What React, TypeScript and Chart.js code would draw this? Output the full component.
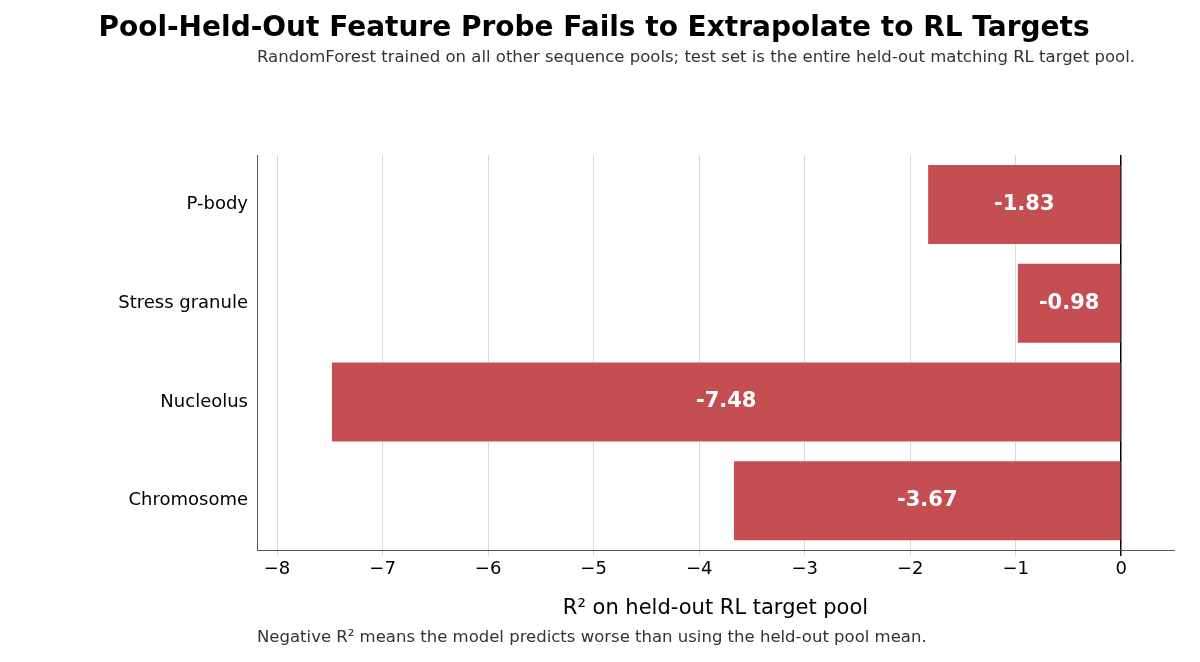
import React, { useEffect, useRef } from "react";
import { Chart, registerables } from "chart.js";
Chart.register(...registerables);

const categories = ["P-body", "Stress granule", "Nucleolus", "Chromosome"];
const r2Values = [-1.83, -0.98, -7.48, -3.67];
const xTicks = [-8, -7, -6, -5, -4, -3, -2, -1, 0];
const FONT = "'DejaVu Sans', sans-serif";

export default function App() {
  const ref = useRef<HTMLCanvasElement>(null);
  useEffect(() => {
    const labelPlugin = {
      id: "barLabels",
      afterDatasetsDraw(chart: any) {
        const ctx = chart.ctx;
        const meta = chart.getDatasetMeta(0);
        ctx.save();
        ctx.fillStyle = "#fff";
        ctx.font = `bold 21px ${FONT}`;
        ctx.textAlign = "center";
        ctx.textBaseline = "middle";
        meta.data.forEach((bar: any, i: number) => {
          const cx = (bar.x + bar.base) / 2;
          ctx.fillText(r2Values[i].toFixed(2), cx, bar.y);
        });
        ctx.restore();
      },
    };
    const chart = new Chart(ref.current!, {
      type: "bar",
      data: {
        labels: categories,
        datasets: [{ data: r2Values, backgroundColor: "#c44e52", barPercentage: 0.8, categoryPercentage: 1 }],
      },
      options: {
        indexAxis: "y",
        animation: false,
        responsive: false,
        layout: { padding: { left: 0, right: 26, top: 155, bottom: 37 } },
        plugins: { legend: { display: false }, tooltip: { enabled: false } },
        scales: {
          x: {
            min: -8.19,
            max: 0.5,
            afterBuildTicks: (s: any) => { s.ticks = xTicks.map((v) => ({ value: v })); },
            afterFit: (s: any) => { s.height = 75; },
            ticks: { color: "#000", font: { family: FONT, size: 18 }, callback: (v: any) => (Number(v) < 0 ? "\u2212" + Math.abs(Number(v)) : String(v)) },
            grid: {
              color: (c: any) => (c.tick && c.tick.value === 0 ? "#000" : "#d9d9d9"),
              lineWidth: (c: any) => (c.tick && c.tick.value === 0 ? 1.5 : 1),
              tickLength: 6,
              drawTicks: true,
            },
            border: { color: "#555" },
            title: { display: true, text: "R² on held-out RL target pool", color: "#000", font: { family: FONT, size: 21 }, padding: { top: 4 } },
          },
          y: {
            afterFit: (s: any) => { s.width = 257; },
            ticks: { color: "#000", font: { family: FONT, size: 18 } },
            grid: { display: false, tickLength: 6, drawTicks: true },
            border: { color: "#555" },
          },
        },
      },
      plugins: [labelPlugin],
    });
    return () => chart.destroy();
  }, []);
  return (
    <div style={{ position: "fixed", left: 0, top: 0, width: 1200, height: 662, background: "#fff", fontFamily: FONT }}>
      <canvas ref={ref} width={1200} height={662} style={{ position: "absolute", left: 0, top: 0 }} />
      <div style={{ position: "absolute", top: 10, left: 0, width: 1188, textAlign: "center", fontWeight: "bold", fontSize: 28 }}>
        Pool-Held-Out Feature Probe Fails to Extrapolate to RL Targets
      </div>
      <div style={{ position: "absolute", top: 46, left: 257, width: 940, fontSize: 16.5, color: "#333", lineHeight: "21px" }}>
        RandomForest trained on all other sequence pools; test set is the entire held-out matching RL target pool.
      </div>
      <div style={{ position: "absolute", top: 627, left: 257, fontSize: 16.5, color: "#333" }}>
        Negative R² means the model predicts worse than using the held-out pool mean.
      </div>
    </div>
  );
}
